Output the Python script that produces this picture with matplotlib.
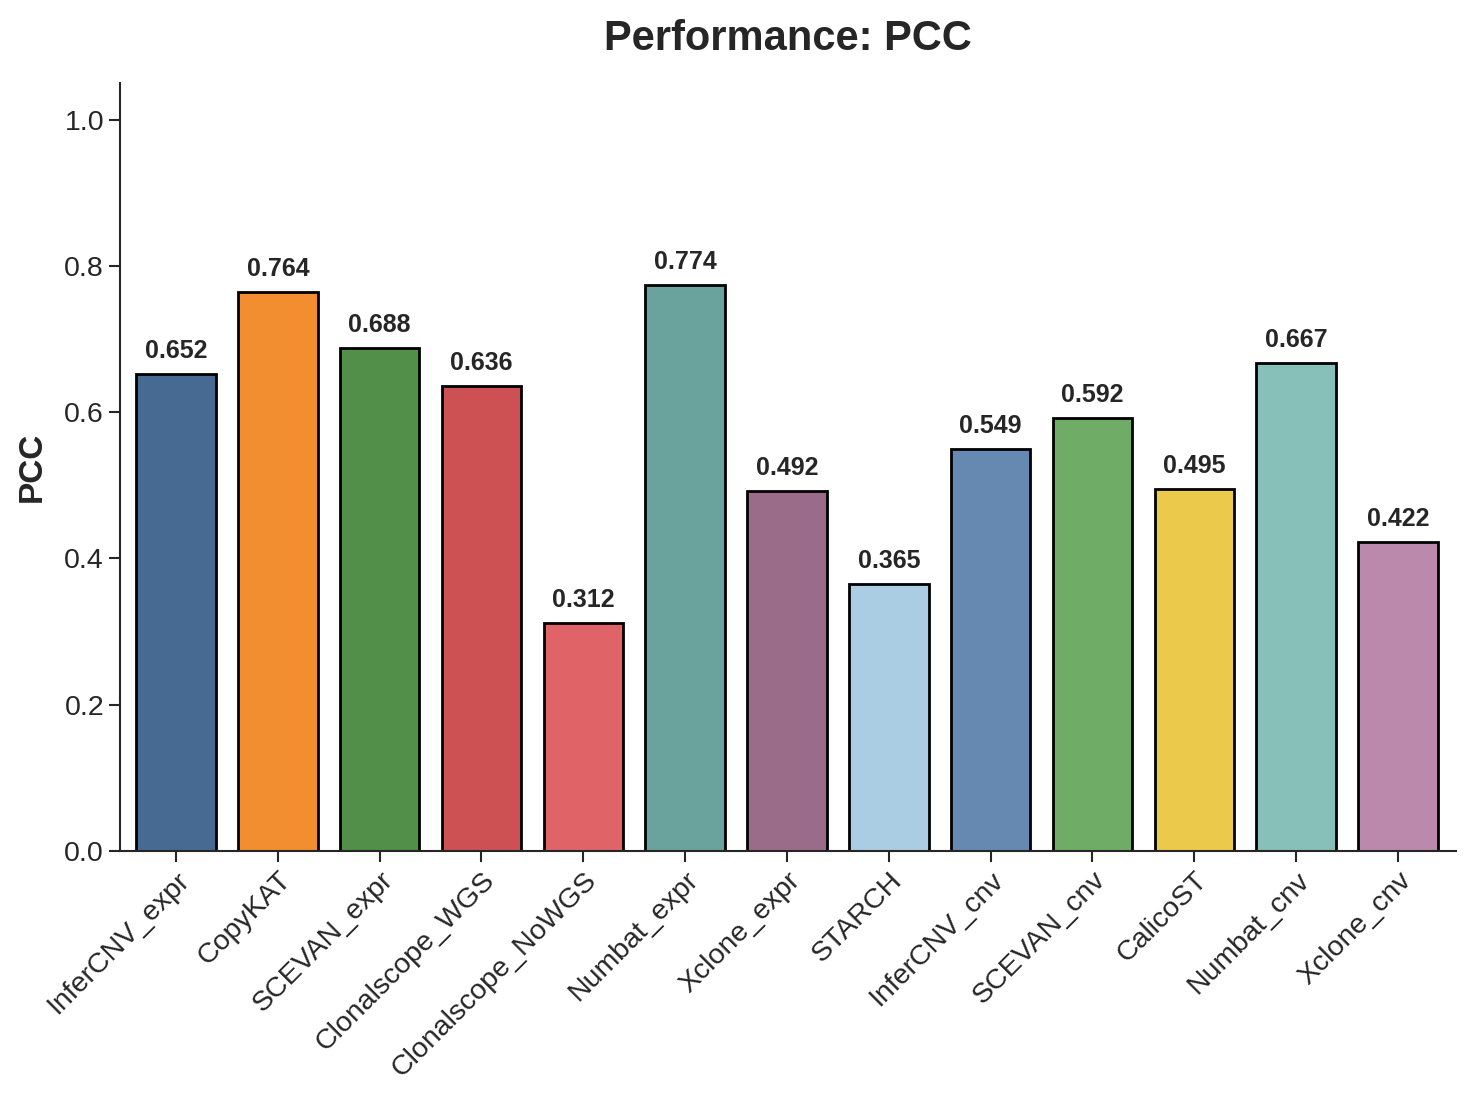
import matplotlib
matplotlib.use("Agg")
import matplotlib.pyplot as plt

methods = ["InferCNV_expr", "CopyKAT", "SCEVAN_expr", "Clonalscope_WGS", "Clonalscope_NoWGS",
           "Numbat_expr", "Xclone_expr", "STARCH", "InferCNV_cnv", "SCEVAN_cnv", "CalicoST",
           "Numbat_cnv", "Xclone_cnv"]
pcc = [0.652, 0.764, 0.688, 0.636, 0.312, 0.774, 0.492, 0.365, 0.549, 0.592, 0.495, 0.667, 0.422]
colors = ["#466a92", "#f28e2f", "#528f49", "#cd5153", "#e06467", "#6aa29e", "#9b6b8a",
          "#aacde3", "#6689b2", "#6fad66", "#ebc94b", "#87c0b9", "#ba89ab"]

plt.rcParams['font.family'] = ['Liberation Sans', 'DejaVu Sans']
txt = "#262626"

fig = plt.figure(figsize=(14.76, 11), dpi=100)
ax = fig.add_axes([120/1476, 1 - 851/1100, (1456-120)/1476, (851-83)/1100])

x = list(range(len(methods)))
ax.bar(x, pcc, width=0.78, color=colors, edgecolor="black", linewidth=2, zorder=2)
for xi, v in zip(x, pcc):
    ax.text(xi, v + 0.015, f"{v:.3f}", ha="center", va="bottom", fontsize=18,
            fontweight="bold", color=txt)

ax.set_xlim(-0.55, len(methods) - 1 + 0.57)
ax.set_ylim(0, 1.05)
ax.set_yticks([0, 0.2, 0.4, 0.6, 0.8, 1.0])
ax.set_yticklabels(["0.0", "0.2", "0.4", "0.6", "0.8", "1.0"])
ax.set_xticks(x)
ax.set_xticklabels(methods, rotation=45, ha="right", rotation_mode="anchor")
ax.tick_params(axis="both", labelsize=20.5, labelcolor=txt, color=txt, width=1.5, length=8)
for s in ["top", "right"]:
    ax.spines[s].set_visible(False)
for s in ["left", "bottom"]:
    ax.spines[s].set_linewidth(1.5)
    ax.spines[s].set_color(txt)

ax.set_ylabel("PCC", fontsize=24, fontweight="bold", color=txt, labelpad=12)
ax.set_title("Performance: PCC", fontsize=30, fontweight="bold", color=txt, pad=24)

fig.savefig("out.png", dpi=100)
